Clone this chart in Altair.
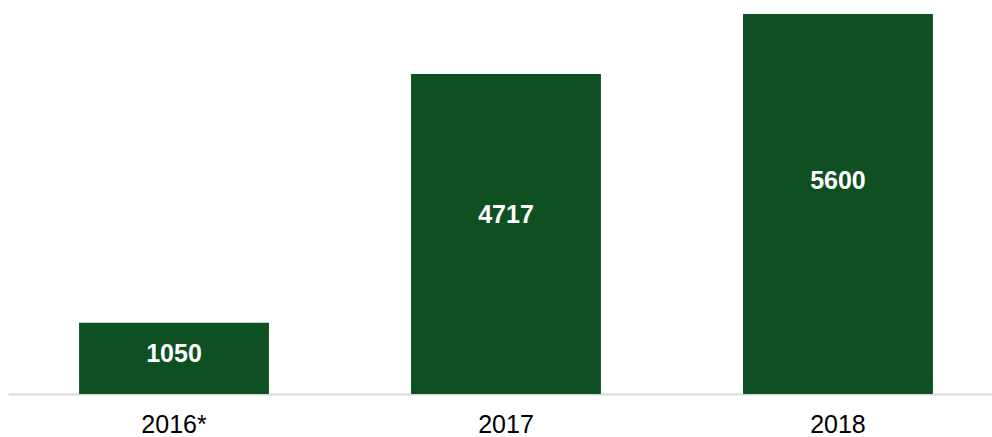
import altair as alt
import pandas as pd

categories = ["2016*", "2017", "2018"]
values = [1050, 4717, 5600]

df = pd.DataFrame({"year": categories, "value": values})

FONT = "Liberation Sans, Arial, sans-serif"

x = alt.X(
    "year:N",
    sort=categories,
    scale=alt.Scale(paddingInner=0.428, paddingOuter=0.196, align=0.546),
    axis=alt.Axis(
        title=None,
        labelAngle=0,
        ticks=False,
        tickSize=0,
        grid=False,
        domainColor="#d9d9d9",
        domainWidth=2,
        labelFont=FONT,
        labelFontSize=25,
        labelColor="#000000",
        labelPadding=18,
    ),
)

y_scale = alt.Scale(domain=[0, 5600], nice=False)

bars = alt.Chart(df).mark_bar(color="#0f5023").encode(
    x=x,
    y=alt.Y("value:Q", scale=y_scale, axis=None),
)

labels = (
    alt.Chart(df)
    .transform_calculate(pos="datum.value * 0.56")
    .mark_text(color="white", fontWeight="bold", fontSize=25, font=FONT, baseline="middle")
    .encode(
        x=alt.X("year:N", sort=categories),
        y=alt.Y("pos:Q", scale=y_scale, axis=None),
        text=alt.Text("value:Q", format="d"),
    )
)

chart = (
    alt.layer(bars, labels)
    .properties(
        width=984,
        height=380,
        background="white",
        autosize=alt.AutoSizeParams(type="none"),
        padding={"left": 8, "right": 0, "top": 14, "bottom": 43},
    )
    .configure_view(strokeWidth=0, stroke="transparent")
    .configure_axis(grid=False)
)

chart.save("out.html", embed_options={"renderer": "svg", "actions": False})
